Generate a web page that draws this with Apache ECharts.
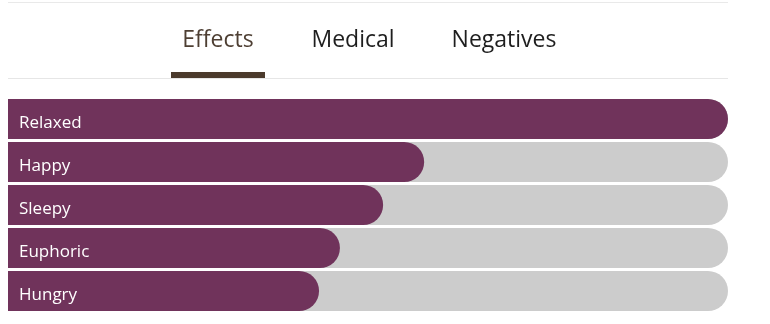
<!DOCTYPE html>
<html>
<head>
<meta charset="utf-8">
<script src="https://cdn.jsdelivr.net/npm/echarts@6/dist/echarts.min.js"></script>
<style>
  html, body { margin: 0; padding: 0; background: #ffffff; }
  #chart { width: 770px; height: 324px; }
</style>
</head>
<body>
<div id="chart"></div>
<script>
// Effect names and their relative strength (percent of the strongest)
const effects = ['Relaxed', 'Happy', 'Sleepy', 'Euphoric', 'Hungry'];
const strengths = [100, 57.8, 52.1, 46.1, 43.2];
const tabs = ['Effects', 'Medical', 'Negatives'];

const chart = echarts.init(document.getElementById('chart'));

// Tab row above the bars; the first tab is the active one
const tabCenters = [218, 353, 504];
const tabGraphics = tabs.map((t, i) => ({
  type: 'text',
  x: tabCenters[i],
  y: 40,
  style: {
    text: t,
    align: 'center',
    verticalAlign: 'middle',
    fill: i === 0 ? '#4e3f33' : '#1e1e1e',
    font: '23px "Open Sans", Lato, sans-serif'
  }
}));

chart.setOption({
  animation: false,
  grid: { left: 8, right: 42, top: 97.5, bottom: 11.5, containLabel: false },
  xAxis: { type: 'value', min: 0, max: 100, show: false },
  yAxis: {
    type: 'category',
    data: effects,
    inverse: true,
    show: false
  },
  graphic: [
    { type: 'rect', shape: { x: 8, y: 2, width: 720, height: 1 }, style: { fill: '#e9e9e9' } },
    { type: 'rect', shape: { x: 8, y: 78, width: 720, height: 1 }, style: { fill: '#e6e6e6' } },
    { type: 'rect', shape: { x: 171, y: 72, width: 94, height: 6 }, style: { fill: '#4b3a2c' } }
  ].concat(tabGraphics),
  series: [{
    type: 'bar',
    data: strengths,
    barWidth: 40,
    showBackground: true,
    backgroundStyle: { color: '#cccccc', borderRadius: [0, 20, 20, 0] },
    itemStyle: { color: '#70335b', borderRadius: [0, 20, 20, 0] },
    label: {
      show: true,
      position: 'insideLeft',
      distance: 11,
      offset: [0, 4],
      formatter: p => p.name,
      color: '#ffffff',
      fontSize: 17,
      fontFamily: '"Open Sans", Lato, sans-serif'
    }
  }]
});
</script>
</body>
</html>
